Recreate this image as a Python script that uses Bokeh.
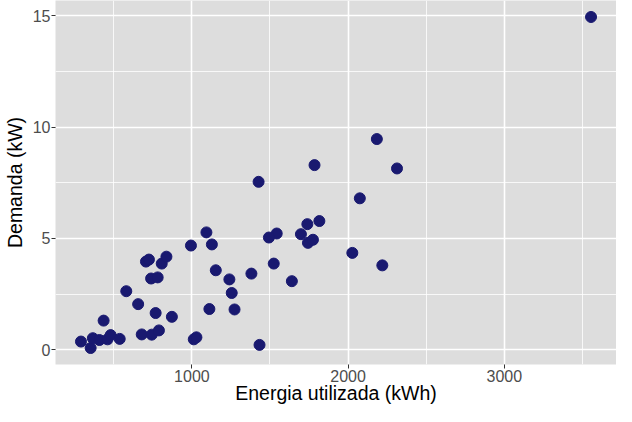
from bokeh.plotting import figure
from bokeh.models import FixedTicker, Range1d
from bokeh.embed import file_html
from bokeh.resources import INLINE

energia = [290, 352, 366, 408, 460, 480, 538, 435, 580, 656, 679, 743, 789, 768, 872,
           706, 725, 807, 837, 739, 781, 994, 1128, 1093, 1153, 1240, 1255, 1112, 1273,
           1012, 1029, 1381, 1427, 1785, 2075, 1816, 1739, 1543, 1493, 1698, 1743, 1775,
           2027, 1524, 1640, 1433, 2184, 2313, 2219, 3555]
demanda = [0.37, 0.08, 0.52, 0.44, 0.47, 0.66, 0.49, 1.31, 2.63, 2.05, 0.69, 0.68, 0.87,
           1.65, 1.48, 3.96, 4.05, 3.87, 4.18, 3.20, 3.25, 4.68, 4.73, 5.27, 3.57, 3.16,
           2.55, 1.83, 1.81, 0.47, 0.56, 3.42, 7.54, 8.29, 6.80, 5.78, 5.64, 5.22, 5.04,
           5.19, 4.80, 4.94, 4.35, 3.87, 3.08, 0.22, 9.46, 8.14, 3.79, 14.94]
x_ticks = [1000, 2000, 3000]
x_minor = [500, 1500, 2500, 3500]
y_ticks = [0, 5, 10, 15]
y_minor = [2.5, 7.5, 12.5]

FONT = "Liberation Sans"

p = figure(width=616, height=406, output_backend="svg", toolbar_location=None,
           x_range=Range1d(127, 3718), y_range=Range1d(-0.66, 15.68))
p.min_border_top = 0
p.min_border_right = 0
p.min_border_left = 0
p.min_border_bottom = 0
p.outline_line_color = None
p.background_fill_color = "#DDDDDD"
p.border_fill_color = "white"

p.xaxis.ticker = FixedTicker(ticks=x_ticks, minor_ticks=x_minor)
p.yaxis.ticker = FixedTicker(ticks=y_ticks, minor_ticks=y_minor)

for g in (p.xgrid[0], p.ygrid[0]):
    g.grid_line_color = "white"
    g.grid_line_width = 1.6
    g.minor_grid_line_color = "white"
    g.minor_grid_line_width = 0.8

for ax in (p.xaxis[0], p.yaxis[0]):
    ax.axis_line_color = None
    ax.major_tick_line_color = "#333333"
    ax.major_tick_line_width = 1
    ax.major_tick_out = 4
    ax.major_tick_in = 0
    ax.minor_tick_line_color = None
    ax.major_label_text_font = FONT
    ax.major_label_text_font_size = "16px"
    ax.major_label_text_color = "#4D4D4D"
    ax.major_label_standoff = 1
    ax.axis_label_text_font = FONT
    ax.axis_label_text_font_size = "19.5px"
    ax.axis_label_text_font_style = "normal"
    ax.axis_label_text_color = "black"

p.xaxis[0].axis_label_standoff = -3
p.yaxis[0].axis_label_standoff = 4

p.xaxis.axis_label = "Energia utilizada (kWh)"
p.yaxis.axis_label = "Demanda (kW)"

p.scatter(energia, demanda, size=11, fill_color="#191970", line_color="#191970")

open("out.html", "w").write(file_html(p, INLINE))
